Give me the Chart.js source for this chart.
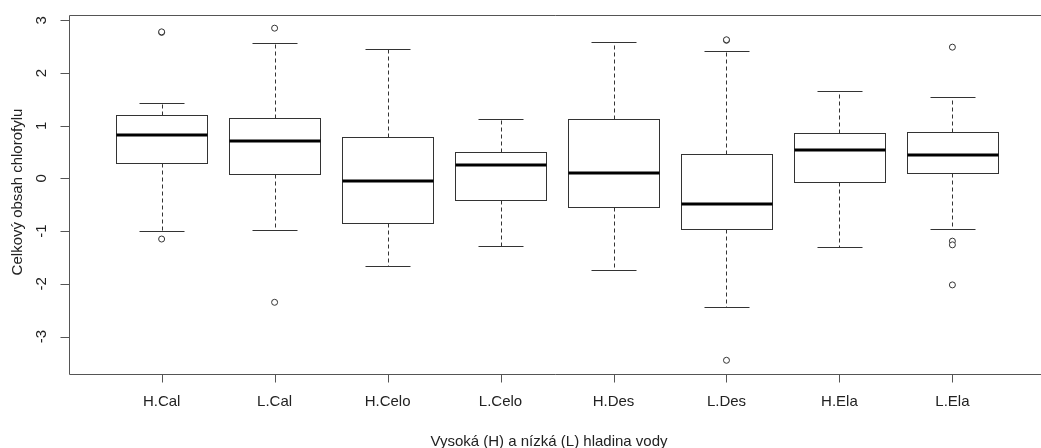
<!DOCTYPE html>
<html>
<head>
<meta charset="utf-8">
<script src="https://cdn.jsdelivr.net/npm/chart.js@4.4.0/dist/chart.umd.min.js"></script>
<style>
  html, body { margin: 0; padding: 0; background: #fff; overflow: hidden; }
  #wrap { width: 1041px; height: 448px; }
</style>
</head>
<body>
<div id="wrap"><canvas id="chart" width="1041" height="448"></canvas></div>
<script>
// data
const categories = ['H.Cal', 'L.Cal', 'H.Celo', 'L.Celo', 'H.Des', 'L.Des', 'H.Ela', 'L.Ela'];
const lowerWhisker = [-1.00, -0.98, -1.66, -1.29, -1.73, -2.44, -1.31, -0.95];
const q1 = [0.30, 0.08, -0.84, -0.41, -0.54, -0.95, -0.06, 0.11];
const median = [0.82, 0.71, -0.04, 0.25, 0.11, -0.48, 0.54, 0.45];
const q3 = [1.20, 1.14, 0.79, 0.50, 1.13, 0.46, 0.86, 0.89];
const upperWhisker = [1.43, 2.56, 2.45, 1.13, 2.59, 2.42, 1.65, 1.54];
const outliers = [
    [2.77, 2.78, -1.15],
    [2.85, -2.35],
    [],
    [],
    [],
    [2.62, 2.63, -3.45],
    [],
    [2.49, -1.19, -1.26, -2.02]
];
const yTicks = [-3, -2, -1, 0, 1, 2, 3];

const xTitle = 'Vysoká (H) a nízká (L) hladina vody';
const yTitle = 'Celkový obsah chlorofylu';

const outlierPoints = [];
outliers.forEach((list, i) => {
    list.forEach(v => outlierPoints.push({ x: i + 1, y: v }));
});

const FONT = '15px "Liberation Sans", Arial, sans-serif';

// boxes, whiskers, frame and axis labels
const boxPlugin = {
    id: 'boxPlugin',
    beforeDatasetsDraw(chart) {
        const ctx = chart.ctx;
        const xs = chart.scales.x;
        const ys = chart.scales.y;
        const area = chart.chartArea;
        const px = v => Math.round(xs.getPixelForValue(v)) + 0.5;
        const py = v => Math.round(ys.getPixelForValue(v)) + 0.5;

        ctx.save();
        categories.forEach((c, i) => {
            const x = i + 1;
            const cx = px(x);
            const bl = px(x - 0.4), br = px(x + 0.4);
            const wl = px(x - 0.2), wr = px(x + 0.2);

            // dashed whiskers
            ctx.strokeStyle = '#333';
            ctx.lineWidth = 1;
            ctx.setLineDash([4, 3]);
            ctx.beginPath();
            ctx.moveTo(cx, py(q3[i]));
            ctx.lineTo(cx, py(upperWhisker[i]));
            ctx.moveTo(cx, py(q1[i]));
            ctx.lineTo(cx, py(lowerWhisker[i]));
            ctx.stroke();
            ctx.setLineDash([]);

            // caps
            ctx.beginPath();
            ctx.moveTo(wl, py(upperWhisker[i]));
            ctx.lineTo(wr, py(upperWhisker[i]));
            ctx.moveTo(wl, py(lowerWhisker[i]));
            ctx.lineTo(wr, py(lowerWhisker[i]));
            ctx.stroke();

            // box
            ctx.fillStyle = '#fff';
            ctx.fillRect(bl, py(q3[i]), br - bl, py(q1[i]) - py(q3[i]));
            ctx.strokeRect(bl, py(q3[i]), br - bl, py(q1[i]) - py(q3[i]));

            // median
            ctx.strokeStyle = '#000';
            ctx.lineWidth = 3;
            const my = Math.round(ys.getPixelForValue(median[i]));
            ctx.beginPath();
            ctx.moveTo(bl, my);
            ctx.lineTo(br, my);
            ctx.stroke();
        });
        ctx.restore();
    },
    afterDraw(chart) {
        const ctx = chart.ctx;
        const xs = chart.scales.x;
        const ys = chart.scales.y;
        const area = chart.chartArea;
        const left = Math.round(area.left) + 0.5;
        const top = Math.round(area.top) + 0.5;
        const bottom = Math.round(area.bottom) + 0.5;

        ctx.save();
        ctx.strokeStyle = '#555';
        ctx.lineWidth = 1;
        ctx.beginPath();
        ctx.moveTo(area.right + 5, top);
        ctx.lineTo(left, top);
        ctx.lineTo(left, bottom);
        ctx.lineTo(area.right + 5, bottom);
        // y ticks
        yTicks.forEach(t => {
            const y = Math.round(ys.getPixelForValue(t)) + 0.5;
            ctx.moveTo(left, y);
            ctx.lineTo(left - 9, y);
        });
        // x ticks
        categories.forEach((c, i) => {
            const x = Math.round(xs.getPixelForValue(i + 1)) + 0.5;
            ctx.moveTo(x, bottom);
            ctx.lineTo(x, bottom + 8);
        });
        ctx.stroke();

        ctx.fillStyle = '#222';
        ctx.font = FONT;
        ctx.textAlign = 'center';
        ctx.textBaseline = 'middle';
        categories.forEach((c, i) => {
            ctx.fillText(c, xs.getPixelForValue(i + 1), 402);
        });
        ctx.fillText(xTitle, 549, 442);

        yTicks.forEach(t => {
            ctx.save();
            ctx.translate(42, ys.getPixelForValue(t));
            ctx.rotate(-Math.PI / 2);
            ctx.fillText(String(t), 0, 0);
            ctx.restore();
        });
        ctx.save();
        ctx.translate(18, 192);
        ctx.rotate(-Math.PI / 2);
        ctx.fillText(yTitle, 0, 0);
        ctx.restore();
        ctx.restore();
    }
};

new Chart(document.getElementById('chart').getContext('2d'), {
    type: 'scatter',
    data: {
        datasets: [{
            label: 'outliers',
            data: outlierPoints,
            pointStyle: 'circle',
            pointRadius: 3,
            pointBorderWidth: 1,
            pointBorderColor: '#333',
            pointBackgroundColor: '#fff'
        }]
    },
    options: {
        responsive: false,
        animation: false,
        layout: {
            padding: { left: 69, top: 15, right: 0, bottom: 74 }
        },
        scales: {
            x: { type: 'linear', display: false, min: 0.18, max: 8.74 },
            y: { type: 'linear', display: false, min: -3.71, max: 3.10 }
        },
        plugins: {
            legend: { display: false },
            tooltip: { enabled: false }
        }
    },
    plugins: [boxPlugin]
});
</script>
</body>
</html>
